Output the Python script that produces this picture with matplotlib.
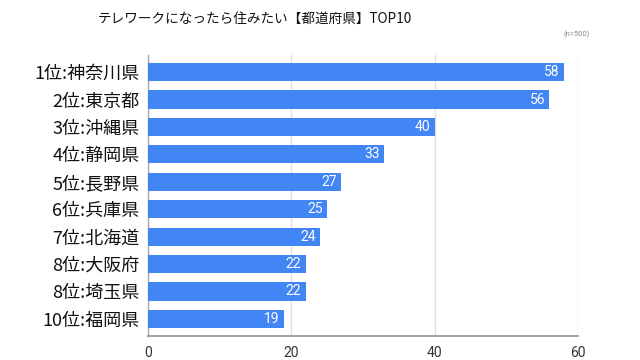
import matplotlib
matplotlib.use("Agg")
import matplotlib.pyplot as plt
import numpy as np

plt.rcParams['font.family'] = ['Noto Sans CJK JP', 'DejaVu Sans']

labels = ["1位:神奈川県", "2位:東京都", "3位:沖縄県", "4位:静岡県", "5位:長野県",
          "6位:兵庫県", "7位:北海道", "8位:大阪府", "8位:埼玉県", "10位:福岡県"]
values = [58, 56, 40, 33, 27, 25, 24, 22, 22, 19]
xticks = [0, 20, 40, 60]

fig = plt.figure(figsize=(6.4, 3.6), dpi=100)
ax = fig.add_axes([0.231, 0.067, 0.672, 0.78])

ind = np.arange(len(labels))
ax.barh(ind, values, height=0.66, color='#4285F4', zorder=3)

for i, v in zip(ind, values):
    ax.text(v - 0.6, i, str(v), color='white', ha='right', va='center',
            fontsize=10, family=['Roboto', 'DejaVu Sans'], zorder=4)

ax.set_xlim(0, 60)
ax.set_ylim(len(labels) - 0.38, -0.62)
ax.set_xticks(xticks)
ax.set_xticklabels([str(t) for t in xticks], fontsize=10, color='#333333',
                   family=['Roboto', 'DejaVu Sans'])
ax.set_yticks(ind)
ax.set_yticklabels(labels, fontsize=13, color='#111111')
ax.tick_params(axis='both', length=0)
ax.tick_params(axis='x', pad=7)
ax.tick_params(axis='y', pad=6)

ax.grid(axis='x', color='#e0e0e0', linewidth=1, zorder=0)
for s in ['top', 'right']:
    ax.spines[s].set_visible(False)
ax.spines['left'].set_color('#aaaaaa')
ax.spines['bottom'].set_color('#999999')
ax.spines['left'].set_linewidth(1.0)
ax.spines['bottom'].set_linewidth(1.3)

fig.text(0.398, 0.948, "テレワークになったら住みたい【都道府県】TOP10",
         ha='center', va='center', fontsize=9.8, color='#111111')
fig.text(0.922, 0.905, "(n=500)", ha='right', va='center',
         fontsize=5.5, color='#888888', family=['Roboto', 'DejaVu Sans'])

fig.savefig("out.png", dpi=100)
